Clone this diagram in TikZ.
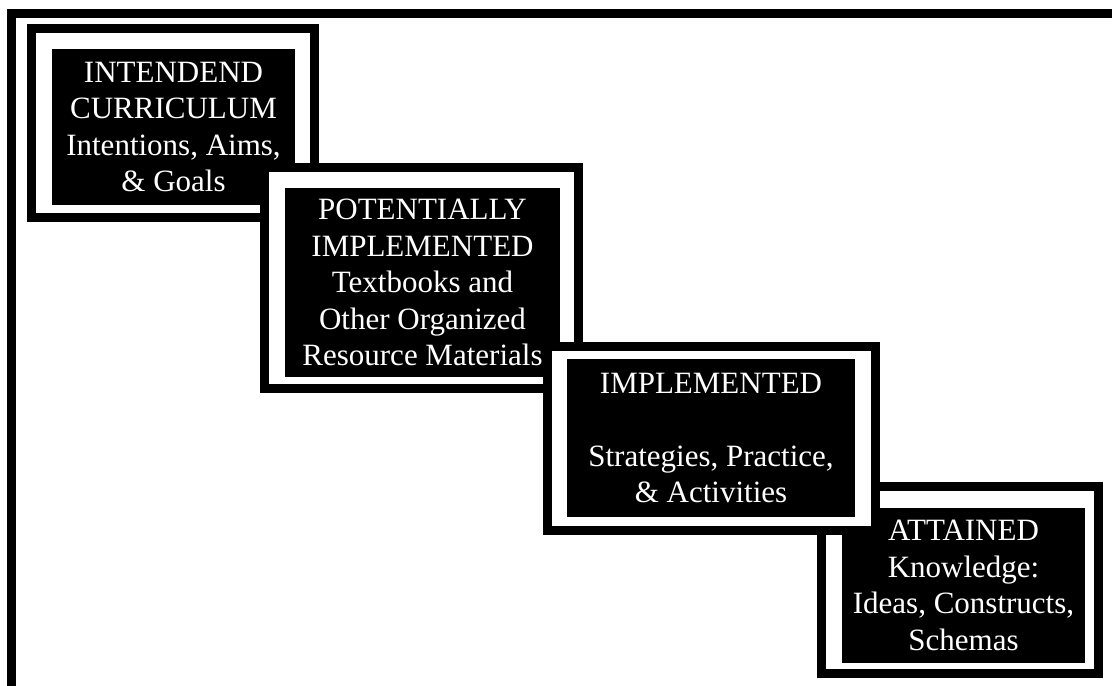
\documentclass[tikz,border=0pt]{standalone}
\usepackage{fontspec}
\setmainfont{Liberation Serif}
\usepackage{tikz}

\begin{document}
\begin{tikzpicture}[
  x=0.5pt, y=-0.5pt,
  frame/.style={draw, line width=4.5pt, fill=white, inner sep=0pt, outer sep=0pt},
  panel/.style={fill=black, text=white, align=center, inner sep=0pt, outer sep=0pt,
    font=\fontsize{15.5pt}{18.3pt}\selectfont}
]
  \useasboundingbox (0,0) rectangle (1112,685);
  \clip (0,0) rectangle (1112,685);
  \draw[line width=4.5pt] (11.5,13.5) rectangle (1140,710);

  \node[frame, minimum width=141.5pt, minimum height=94.5pt] (f1) at (173,123) {};
  \node[panel, minimum width=121.5pt, minimum height=78pt] (intended) at (173.5,127)
    {INTENDEND\\CURRICULUM\\Intentions, Aims,\\\& Goals};

  \node[frame, minimum width=157pt, minimum height=110.5pt] (f2) at (421.5,278) {};
  \node[panel, minimum width=137.5pt, minimum height=94.5pt] (potential) at (422.5,282.5)
    {POTENTIALLY\\IMPLEMENTED\\Textbooks and\\Other Organized\\Resource Materials};

  % the third panel lies over the corner of the fourth
  \node[frame, minimum width=138.5pt, minimum height=93.5pt] (f4) at (960,580) {};
  \node[panel, minimum width=121.5pt, minimum height=77.5pt] (attained) at (963.5,585.5)
    {ATTAINED\\Knowledge:\\Ideas, Constructs,\\Schemas};

  \node[frame, minimum width=164pt, minimum height=92pt] (f3) at (711.5,438.5) {};
  \node[panel, minimum width=144pt, minimum height=79pt] (implemented) at (711,438)
    {IMPLEMENTED\\[18.3pt]Strategies, Practice,\\\& Activities};
\end{tikzpicture}
\end{document}
